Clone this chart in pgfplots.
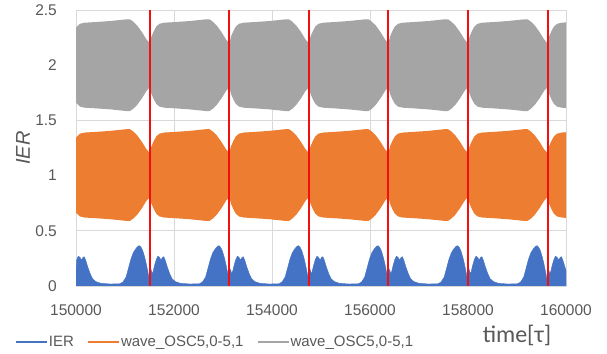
\documentclass[border=0pt]{standalone}
\usepackage{pgfplots}
\pgfplotsset{compat=1.18}
\usepackage{pgfplotstable}
\usepgfplotslibrary{fillbetween}
\usepackage{fontspec}
\setmainfont{Liberation Sans}
\newfontfamily\calibri{Carlito}
\definecolor{cblue}{HTML}{4472C4}
\definecolor{corange}{HTML}{ED7D31}
\definecolor{cgray}{HTML}{A5A5A5}
\definecolor{cgrid}{HTML}{D9D9D9}
\definecolor{ctext}{HTML}{595959}
\definecolor{cred}{HTML}{F01010}

\pgfplotstableread{
t gu gl ou ol
150000 2.34 1.66 1.345 0.665
150080 2.375 1.625 1.38 0.63
150177 2.385 1.615 1.39 0.62
150372 2.39 1.61 1.395 0.615
150697 2.40 1.60 1.405 0.605
151021 2.415 1.585 1.42 0.59
151102 2.415 1.585 1.42 0.59
151167 2.395 1.605 1.40 0.61
151248 2.36 1.64 1.365 0.645
151346 2.30 1.70 1.305 0.705
151443 2.23 1.77 1.235 0.775
151508 2.20 1.80 1.205 0.805
151540 2.26 1.74 1.265 0.745
151589 2.31 1.69 1.315 0.695
151638 2.35 1.65 1.355 0.655
151703 2.375 1.625 1.38 0.63
151800 2.385 1.615 1.39 0.62
151995 2.39 1.61 1.395 0.615
152320 2.40 1.60 1.405 0.605
152644 2.415 1.585 1.42 0.59
152725 2.415 1.585 1.42 0.59
152790 2.395 1.605 1.40 0.61
152871 2.36 1.64 1.365 0.645
152969 2.30 1.70 1.305 0.705
153066 2.23 1.77 1.235 0.775
153131 2.20 1.80 1.205 0.805
153163 2.26 1.74 1.265 0.745
153212 2.31 1.69 1.315 0.695
153261 2.35 1.65 1.355 0.655
153326 2.375 1.625 1.38 0.63
153423 2.385 1.615 1.39 0.62
153618 2.39 1.61 1.395 0.615
153943 2.40 1.60 1.405 0.605
154267 2.415 1.585 1.42 0.59
154348 2.415 1.585 1.42 0.59
154413 2.395 1.605 1.40 0.61
154494 2.36 1.64 1.365 0.645
154592 2.30 1.70 1.305 0.705
154689 2.23 1.77 1.235 0.775
154754 2.20 1.80 1.205 0.805
154786 2.26 1.74 1.265 0.745
154835 2.31 1.69 1.315 0.695
154884 2.35 1.65 1.355 0.655
154949 2.375 1.625 1.38 0.63
155046 2.385 1.615 1.39 0.62
155241 2.39 1.61 1.395 0.615
155566 2.40 1.60 1.405 0.605
155890 2.415 1.585 1.42 0.59
155971 2.415 1.585 1.42 0.59
156036 2.395 1.605 1.40 0.61
156117 2.36 1.64 1.365 0.645
156215 2.30 1.70 1.305 0.705
156312 2.23 1.77 1.235 0.775
156377 2.20 1.80 1.205 0.805
156409 2.26 1.74 1.265 0.745
156458 2.31 1.69 1.315 0.695
156507 2.35 1.65 1.355 0.655
156572 2.375 1.625 1.38 0.63
156669 2.385 1.615 1.39 0.62
156864 2.39 1.61 1.395 0.615
157189 2.40 1.60 1.405 0.605
157513 2.415 1.585 1.42 0.59
157594 2.415 1.585 1.42 0.59
157659 2.395 1.605 1.40 0.61
157740 2.36 1.64 1.365 0.645
157838 2.30 1.70 1.305 0.705
157935 2.23 1.77 1.235 0.775
158000 2.20 1.80 1.205 0.805
158032 2.26 1.74 1.265 0.745
158081 2.31 1.69 1.315 0.695
158130 2.35 1.65 1.355 0.655
158195 2.375 1.625 1.38 0.63
158292 2.385 1.615 1.39 0.62
158487 2.39 1.61 1.395 0.615
158812 2.40 1.60 1.405 0.605
159136 2.415 1.585 1.42 0.59
159217 2.415 1.585 1.42 0.59
159282 2.395 1.605 1.40 0.61
159363 2.36 1.64 1.365 0.645
159461 2.30 1.70 1.305 0.705
159558 2.23 1.77 1.235 0.775
159623 2.20 1.80 1.205 0.805
159655 2.26 1.74 1.265 0.745
159704 2.31 1.69 1.315 0.695
159753 2.35 1.65 1.355 0.655
159818 2.375 1.625 1.38 0.63
159915 2.385 1.615 1.39 0.62
160000 2.388 1.612 1.393 0.617
}\envtable

\pgfplotstableread{
t ier
150000 0.14
150015 0.24
150047 0.27
150080 0.26
150112 0.235
150145 0.26
150169 0.265
150201 0.23
150242 0.17
150291 0.11
150339 0.065
150404 0.04
150502 0.025
150697 0.018
150891 0.02
150956 0.035
151021 0.08
151070 0.16
151118 0.24
151167 0.30
151216 0.335
151265 0.36
151297 0.365
151329 0.35
151362 0.32
151403 0.26
151435 0.20
151467 0.13
151497 0.06
151508 0.04
151518 0.11
151532 0.15
151553 0.11
151573 0.13
151605 0.19
151638 0.24
151670 0.27
151703 0.26
151735 0.235
151768 0.26
151792 0.265
151824 0.23
151865 0.17
151914 0.11
151962 0.065
152027 0.04
152125 0.025
152320 0.018
152514 0.02
152579 0.035
152644 0.08
152693 0.16
152741 0.24
152790 0.30
152839 0.335
152888 0.36
152920 0.365
152952 0.35
152985 0.32
153026 0.26
153058 0.20
153090 0.13
153120 0.06
153131 0.04
153141 0.11
153155 0.15
153176 0.11
153196 0.13
153228 0.19
153261 0.24
153293 0.27
153326 0.26
153358 0.235
153391 0.26
153415 0.265
153447 0.23
153488 0.17
153537 0.11
153585 0.065
153650 0.04
153748 0.025
153943 0.018
154137 0.02
154202 0.035
154267 0.08
154316 0.16
154364 0.24
154413 0.30
154462 0.335
154511 0.36
154543 0.365
154575 0.35
154608 0.32
154649 0.26
154681 0.20
154713 0.13
154743 0.06
154754 0.04
154764 0.11
154778 0.15
154799 0.11
154819 0.13
154851 0.19
154884 0.24
154916 0.27
154949 0.26
154981 0.235
155014 0.26
155038 0.265
155070 0.23
155111 0.17
155160 0.11
155208 0.065
155273 0.04
155371 0.025
155566 0.018
155760 0.02
155825 0.035
155890 0.08
155939 0.16
155987 0.24
156036 0.30
156085 0.335
156134 0.36
156166 0.365
156198 0.35
156231 0.32
156272 0.26
156304 0.20
156336 0.13
156366 0.06
156377 0.04
156387 0.11
156401 0.15
156422 0.11
156442 0.13
156474 0.19
156507 0.24
156539 0.27
156572 0.26
156604 0.235
156637 0.26
156661 0.265
156693 0.23
156734 0.17
156783 0.11
156831 0.065
156896 0.04
156994 0.025
157189 0.018
157383 0.02
157448 0.035
157513 0.08
157562 0.16
157610 0.24
157659 0.30
157708 0.335
157757 0.36
157789 0.365
157821 0.35
157854 0.32
157895 0.26
157927 0.20
157959 0.13
157989 0.06
158000 0.04
158010 0.11
158024 0.15
158045 0.11
158065 0.13
158097 0.19
158130 0.24
158162 0.27
158195 0.26
158227 0.235
158260 0.26
158284 0.265
158316 0.23
158357 0.17
158406 0.11
158454 0.065
158519 0.04
158617 0.025
158812 0.018
159006 0.02
159071 0.035
159136 0.08
159185 0.16
159233 0.24
159282 0.30
159331 0.335
159380 0.36
159412 0.365
159444 0.35
159477 0.32
159518 0.26
159550 0.20
159582 0.13
159612 0.06
159623 0.04
159633 0.11
159647 0.15
159668 0.11
159688 0.13
159720 0.19
159753 0.24
159785 0.27
159818 0.26
159850 0.235
159883 0.26
159907 0.265
159939 0.23
159980 0.17
160000 0.14
}\iertable

\begin{document}
\begin{tikzpicture}
\begin{axis}[
  name=ax,
  scale only axis,
  width=490bp, height=276bp,
  xmin=150000, xmax=160000,
  ymin=0, ymax=2.5,
  scaled x ticks=false,
  scaled y ticks=false,
  xtick={150000,152000,154000,156000,158000,160000},
  xticklabels={150000,152000,154000,156000,158000,160000},
  ytick={0,0.5,1,1.5,2,2.5},
  yticklabels={0,0.5,1,1.5,2,2.5},
  /pgf/number format/assume math mode=true,
  major tick length=0pt,
  grid=major,
  major grid style={cgrid, line width=0.8bp},
  axis line style={cgrid, line width=0.8bp},
  ticklabel style={font=\fontsize{15.5bp}{18bp}\selectfont, text=ctext},
  xticklabel style={anchor=center, inner sep=0pt, yshift=-24bp},
  yticklabel style={anchor=east, inner sep=0pt, xshift=-19bp},
  ylabel={\itshape IER},
  ylabel style={at={(axis description cs:-0.108,0.5)}, anchor=center, rotate=0, font=\fontsize{20bp}{24bp}\selectfont, text=ctext},
  xlabel={\calibri time[τ]},
  xlabel style={at={(axis description cs:0.90,-0.1775)}, anchor=center, font=\fontsize{24bp}{28bp}\selectfont, text=ctext},
  legend columns=3,
  legend style={at={(axis description cs:-0.1245,-0.203)}, anchor=west, draw=none, fill=none, inner sep=0pt, outer sep=0pt,
    font=\fontsize{15bp}{18bp}\selectfont, text=ctext,
    nodes={inner sep=1bp},
    /tikz/every even column/.append style={column sep=12bp}},
  legend image code/.code={\draw[#1, line width=2bp] (0bp,0bp) -- (31bp,0bp);},
  clip=true,
]
\addplot[draw=cblue, fill=cblue, line width=0.4pt, forget plot] table[x=t, y=ier]{\iertable} \closedcycle;
\addplot[name path=ou, draw=none, forget plot] table[x=t, y=ou]{\envtable};
\addplot[name path=ol, draw=none, forget plot] table[x=t, y=ol]{\envtable};
\addplot[corange, forget plot] fill between[of=ou and ol];
\addplot[name path=gu, draw=none, forget plot] table[x=t, y=gu]{\envtable};
\addplot[name path=gl, draw=none, forget plot] table[x=t, y=gl]{\envtable};
\addplot[cgray, forget plot] fill between[of=gu and gl];
\addplot[draw=cred, line width=1.3bp, forget plot] coordinates {(151510,0) (151510,2.5)};
\addplot[draw=cred, line width=1.3bp, forget plot] coordinates {(153122,0) (153122,2.5)};
\addplot[draw=cred, line width=1.3bp, forget plot] coordinates {(154755,0) (154755,2.5)};
\addplot[draw=cred, line width=1.3bp, forget plot] coordinates {(156367,0) (156367,2.5)};
\addplot[draw=cred, line width=1.3bp, forget plot] coordinates {(158000,0) (158000,2.5)};
\addplot[draw=cred, line width=1.3bp, forget plot] coordinates {(159633,0) (159633,2.5)};
\addlegendimage{cblue}
\addlegendentry{IER}
\addlegendimage{corange}
\addlegendentry{wave\_OSC5,0-5,1}
\addlegendimage{cgray}
\addlegendentry{wave\_OSC5,0-5,1}
\node[rotate=90, anchor=center, text=ctext, font=\fontsize{18bp}{21bp}\selectfont] at (axis description cs:1.0224,0.6757) {Voltage};
\end{axis}
\path ([xshift=-76bp,yshift=-68bp]ax.south west) rectangle ++(607bp,354bp);
\end{tikzpicture}
\end{document}
